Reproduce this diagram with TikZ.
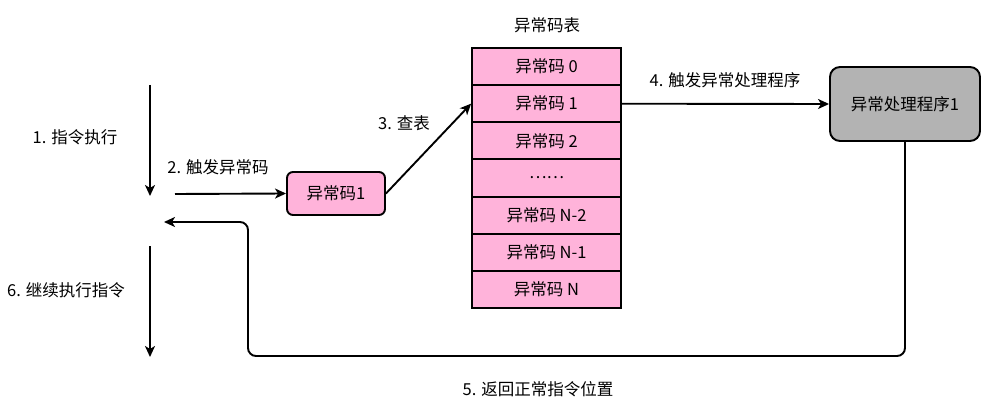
\documentclass[tikz,border=0pt]{standalone}
\usepackage{fontspec}
\setmainfont{Noto Sans CJK SC}
\usetikzlibrary{arrows.meta}
\definecolor{codepink}{HTML}{FFB3DA}
\definecolor{hdlgray}{HTML}{B3B3B3}

\begin{document}
\begin{tikzpicture}[x=1pt,y=-1pt,
        every node/.style={font=\fontsize{16.5}{19}\selectfont},
        arr/.style={line width=1.9pt,-{Stealth[length=11pt,width=10pt,inset=3pt]}},
        row/.style={draw,line width=1.9pt,fill=codepink,minimum width=149pt,minimum height=37.14pt,inner sep=0pt},
        codebox/.style={draw,line width=1.9pt,fill=codepink,rounded corners=6pt,minimum width=98pt,minimum height=43pt,inner sep=0pt},
        hdlbox/.style={draw,line width=1.9pt,fill=hdlgray,rounded corners=10pt,minimum width=150pt,minimum height=74pt,inner sep=0pt}]
                \useasboundingbox (0,0) rectangle (991,401);

                % exception code table
                \node (title) at (547,25) {异常码表};
                \foreach \t [count=\i from 0] in {异常码 0,异常码 1,异常码 2,……,异常码 N-2,异常码 N-1,异常码 N}
                    \node[row] (r\i) at (546.5,{48+37.14*(\i+0.5)}) {\t};

                \node[codebox] (code) at (336,193.5) {异常码1};
                \node[hdlbox] (hdl) at (905,104) {异常处理程序1};

                % free ends on the left
                \coordinate (s1) at (150,85);
                \coordinate (e1) at (150,196);
                \coordinate (s2) at (175,194);
                \coordinate (back) at (164,222);
                \coordinate (s6) at (150,246);
                \coordinate (e6) at (150,357);

                \draw[arr] (s1) -- (e1);
                \draw[arr] (s2) -- (code.west);
                \draw[arr] (code.east) -- (r1.west);
                \draw[arr] (r1.east) -- (hdl.west);
                \draw[arr,rounded corners=8pt] (hdl.south) |- (248,356) |- (back);
                \draw[arr] (s6) -- (e6);

                \node (l1) at (75,137) {1. 指令执行};
                \node (l2) at (218,167) {2. 触发异常码};
                \node (l3) at (404,123) {3. 查表};
                \node (l4) at (725,80) {4. 触发异常处理程序};
                \node (l5) at (538,389) {5. 返回正常指令位置};
                \node (l6) at (66,290) {6. 继续执行指令};
            \end{tikzpicture}
\end{document}
